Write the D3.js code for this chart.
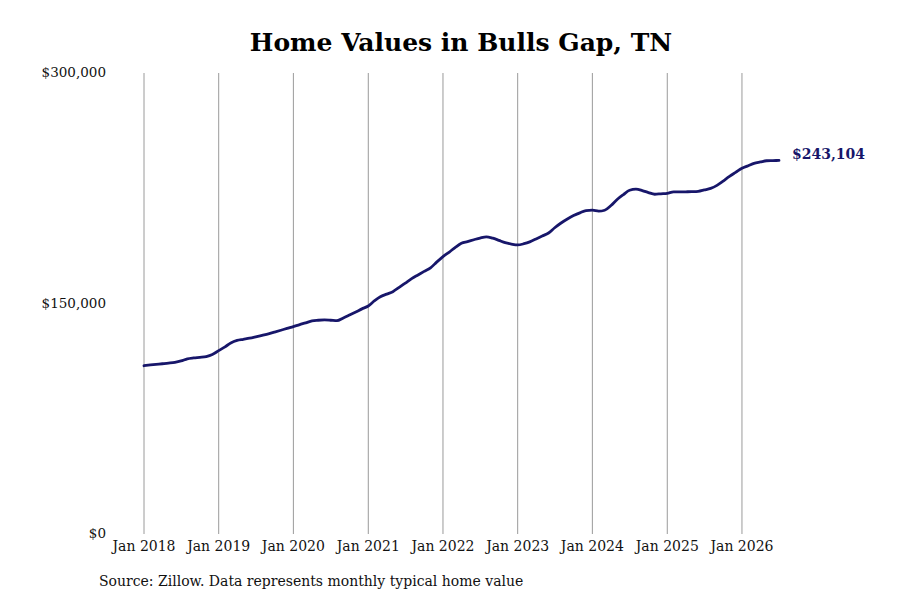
<!DOCTYPE html>
<html>
<head>
<meta charset="utf-8">
<script src="https://cdn.jsdelivr.net/npm/d3@7"></script>
<style>
  body { margin: 0; background: #fff; }
  text { font-family: "DejaVu Serif", serif; }
</style>
</head>
<body>
<div id="chart"></div>
<script>
// monthly typical home value, Jan 2018 .. Jul 2026
const startMonth = "2018-01";
const values = [
  109500, 110000, 110400, 110800, 111200, 111700, 112600, 114000, 114600, 115000, 115500, 116800,
  119300, 121800, 124300, 126000, 126700, 127400, 128300, 129300, 130300, 131400, 132600, 133800,
  135000, 136300, 137400, 138700, 139100, 139300, 139100, 138800, 140600, 142500, 144500, 146500,
  148400, 151800, 154400, 156100, 157700, 160500, 163300, 166200, 168600, 170900, 173200, 176900,
  180500, 183500, 186400, 189200, 190300, 191500, 192600, 193400, 192500, 191100, 189600, 188700,
  188100, 188900, 190100, 192000, 193900, 195900, 199300, 202400, 205000, 207200, 209000, 210500,
  210700, 210100, 210700, 213800, 217700, 220900, 223700, 224400, 223500, 222200, 221100, 221400,
  221700, 222600, 222600, 222700, 222800, 223000, 223900, 224900, 226900, 229700, 232700, 235300,
  238000, 239600, 241200, 242100, 242900, 243000, 243104
];
const yTicks = [0, 150000, 300000];
const xTickYears = [2018, 2019, 2020, 2021, 2022, 2023, 2024, 2025, 2026];
const titleText = "Home Values in Bulls Gap, TN";
const sourceText = "Source: Zillow. Data represents monthly typical home value";

const width = 900, height = 600;
const margin = {top: 73, right: 121, bottom: 66, left: 144};

const parseMonth = d3.timeParse("%Y-%m");
const start = parseMonth(startMonth);
const data = values.map((v, i) => ({date: d3.timeMonth.offset(start, i), value: v}));

const svg = d3.select("#chart").append("svg")
    .attr("width", width)
    .attr("height", height);

const x = d3.scaleTime()
    .domain([new Date(2018, 0, 1), new Date(2026, 6, 1)])
    .range([margin.left, 779]);

const y = d3.scaleLinear()
    .domain([0, 300000])
    .range([height - margin.bottom, margin.top]);

// vertical grid lines at each January
svg.append("g")
    .selectAll("line")
    .data(xTickYears)
    .join("line")
    .attr("x1", d => x(new Date(d, 0, 1)))
    .attr("x2", d => x(new Date(d, 0, 1)))
    .attr("y1", y(300000))
    .attr("y2", y(0))
    .attr("stroke", "#9a9a9a")
    .attr("stroke-width", 1);

// x labels
svg.append("g")
    .selectAll("text")
    .data(xTickYears)
    .join("text")
    .attr("x", d => x(new Date(d, 0, 1)))
    .attr("y", y(0) + 17)
    .attr("text-anchor", "middle")
    .attr("font-size", "14px")
    .attr("fill", "#111")
    .text(d => d3.timeFormat("%b %Y")(new Date(d, 0, 1)));

// y labels
const fmt = d3.format("$,.0f");
svg.append("g")
    .selectAll("text")
    .data(yTicks)
    .join("text")
    .attr("x", 106)
    .attr("y", d => y(d))
    .attr("dy", "0.32em")
    .attr("text-anchor", "end")
    .attr("font-size", "13.5px")
    .attr("fill", "#111")
    .text(d => fmt(d));

// the line
const line = d3.line()
    .x(d => x(d.date))
    .y(d => y(d.value))
    .curve(d3.curveMonotoneX);

svg.append("path")
    .datum(data)
    .attr("d", line)
    .attr("fill", "none")
    .attr("stroke", "#17166a")
    .attr("stroke-width", 2.8)
    .attr("stroke-linecap", "round");

// end value label
const last = data[data.length - 1];
svg.append("text")
    .attr("x", x(last.date) + 13)
    .attr("y", y(last.value))
    .attr("dy", "-0.1em")
    .attr("font-size", "14px")
    .attr("font-weight", "bold")
    .attr("fill", "#17166a")
    .text(fmt(last.value));

// title
svg.append("text")
    .attr("x", 461)
    .attr("y", 51)
    .attr("text-anchor", "middle")
    .attr("font-size", "25px")
    .attr("font-weight", "bold")
    .attr("fill", "#000")
    .text(titleText);

// source note
svg.append("text")
    .attr("x", 99)
    .attr("y", 586)
    .attr("font-size", "14px")
    .attr("fill", "#111")
    .text(sourceText);
</script>
</body>
</html>
